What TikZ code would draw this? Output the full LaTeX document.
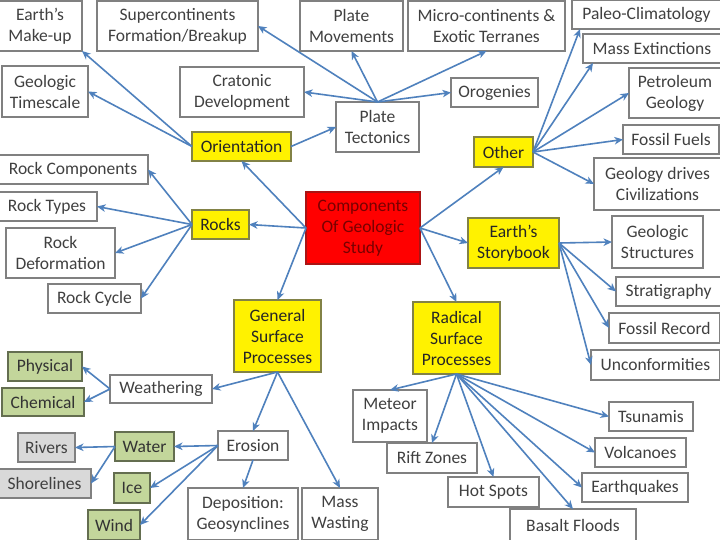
\documentclass[tikz,border=0pt]{standalone}
\usepackage{fontspec}
\setmainfont{Carlito}
\usetikzlibrary{arrows.meta}
\definecolor{arr}{RGB}{79,129,189}
\definecolor{txt}{RGB}{64,64,64}
\definecolor{bord}{RGB}{128,128,128}
\definecolor{ybord}{RGB}{130,130,70}
\definecolor{gfill}{RGB}{195,214,155}
\definecolor{gbord}{RGB}{100,110,80}
\definecolor{grfill}{RGB}{217,217,217}
\definecolor{redtxt}{RGB}{120,0,0}
\definecolor{redbord}{RGB}{170,20,20}
\newcommand\bx[7]{\node[#6, minimum width={(#4-#2)*1pt}, minimum height={(#5-#3)*1pt}] (#1) at ({(#2+#4)/2},{(#3+#5)/2}) {#7};}
\tikzset{
  base/.style={inner sep=0pt, outer sep=0pt, align=center, line width=1.3pt},
  wbox/.style={base, draw=bord, fill=white, text=txt},
  ybox/.style={base, draw=ybord, fill=yellow, text=black!85},
  rbox/.style={base, draw=redbord, fill=red, text=redtxt},
  gbox/.style={base, draw=gbord, fill=gfill, text=black!80},
  grbox/.style={base, draw=bord, fill=grfill, text=txt},
  conn/.style={draw=arr, line width=1.6pt, -{Stealth[length=8.5pt,width=7.5pt,inset=2.5pt]}}
}
\begin{document}
\begin{tikzpicture}[x=1pt,y=-1pt,font=\fontsize{17.5}{21}\selectfont]
\useasboundingbox (0,0) rectangle (720,539);
\fill[white] (0,0) rectangle (720,539);
\clip (0,0) rectangle (720,539);
% top row
\bx{makeup}{-2}{1}{82}{51}{wbox}{Earth’s\\Make-up}
\bx{super}{97}{1}{258}{51}{wbox}{Supercontinents\\Formation/Breakup}
\bx{platemov}{300}{1}{403}{51}{wbox}{Plate\\Movements}
\bx{micro}{408}{1}{565}{51}{wbox}{Micro-continents \&\\Exotic Terranes}
\bx{paleo}{572}{0}{721}{29}{wbox}{Paleo-Climatology}
\bx{massext}{583}{34}{721}{63}{wbox}{Mass Extinctions}
\bx{petro}{629}{68}{721}{118}{wbox}{Petroleum\\Geology}
\bx{timescale}{2}{66}{88}{117}{wbox}{Geologic\\Timescale}
\bx{cratonic}{180}{67}{304}{117}{wbox}{Cratonic\\Development}
\bx{orog}{451}{78}{538}{107}{wbox}{Orogenies}
\bx{plate}{336}{102}{419}{152}{wbox}{Plate\\Tectonics}
\bx{orient}{192}{132}{291}{161}{ybox}{Orientation}
\bx{other}{474}{137}{533}{167}{ybox}{Other}
\bx{fuels}{623}{125}{719}{154}{wbox}{Fossil Fuels}
\bx{civ}{594}{158}{721}{210}{wbox}{Geology drives\\Civilizations}
% middle
\bx{rockcomp}{-2}{155}{148}{184}{wbox}{Rock Components}
\bx{rocktypes}{-3}{192}{97}{221}{wbox}{Rock Types}
\bx{rockdef}{6}{228}{115}{278}{wbox}{Rock\\Deformation}
\bx{rockcycle}{48}{284}{141}{313}{wbox}{Rock Cycle}
\bx{rocks}{192}{210}{249}{239}{ybox}{Rocks}
\bx{red}{306}{192}{420}{264}{rbox}{Components\\Of Geologic\\Study}
\bx{story}{468}{218}{559}{268}{ybox}{Earth’s\\Storybook}
\bx{geostruct}{612}{216}{703}{268}{wbox}{Geologic\\Structures}
\bx{strat}{616}{277}{721}{306}{wbox}{Stratigraphy}
\bx{fossrec}{609}{313}{720}{343}{wbox}{Fossil Record}
\bx{unconf}{591}{350}{720}{380}{wbox}{Unconformities}
\bx{gsp}{234}{300}{321}{372}{ybox}{General\\Surface\\Processes}
\bx{radical}{413}{302}{500}{374}{ybox}{Radical\\Surface\\Processes}
% lower left
\bx{physical}{8}{352}{82}{381}{gbox}{Physical}
\bx{chemical}{2}{388}{84}{416}{gbox}{Chemical}
\bx{weath}{110}{375}{212}{403}{wbox}{Weathering}
\bx{rivers}{18}{433}{75}{462}{grbox}{Rivers}
\bx{water}{115}{432}{174}{461}{gbox}{Water}
\bx{shore}{-2}{469}{91}{498}{grbox}{Shorelines}
\bx{erosion}{218}{431}{288}{460}{wbox}{Erosion}
\bx{ice}{114}{473}{150}{503}{gbox}{Ice}
\bx{wind}{88}{510}{140}{540}{gbox}{Wind}
\bx{depo}{188}{488}{298}{540}{wbox}{Deposition:\\Geosynclines}
\bx{masswaste}{302}{488}{378}{540}{wbox}{Mass\\Wasting}
% lower right
\bx{meteor}{353}{390}{427}{442}{wbox}{Meteor\\Impacts}
\bx{rift}{387}{443}{477}{473}{wbox}{Rift Zones}
\bx{hot}{448}{477}{539}{507}{wbox}{Hot Spots}
\bx{basalt}{510}{509}{636}{541}{wbox}{Basalt Floods}
\bx{tsu}{609}{402}{693}{431}{wbox}{Tsunamis}
\bx{volc}{595}{438}{686}{467}{wbox}{Volcanoes}
\bx{quake}{582}{473}{688}{502}{wbox}{Earthquakes}
% connectors
\draw[conn] (red.west) -- (orient.south);
\draw[conn] (red.west) -- (rocks.east);
\draw[conn] (red.west) -- (gsp.north);
\draw[conn] (red.east) -- (other.south);
\draw[conn] (red.east) -- (story.west);
\draw[conn] (red.east) -- (radical.north);
\draw[conn] (orient.west) -- (makeup.south east);
\draw[conn] (orient.west) -- (timescale.east);
\draw[conn] (orient.east) -- (plate.west);
\draw[conn] (plate.north) -- (super.east);
\draw[conn] (plate.north) -- (cratonic.east);
\draw[conn] (plate.north) -- (platemov.south);
\draw[conn] (plate.north) -- (micro.south);
\draw[conn] (plate.north) -- (orog.west);
\draw[conn] (other.east) -- ([xshift=8pt]paleo.south west);
\draw[conn] (other.east) -- ([xshift=10pt]massext.south west);
\draw[conn] (other.east) -- (petro.west);
\draw[conn] (other.east) -- (fuels.west);
\draw[conn] (other.east) -- (civ.west);
\draw[conn] (story.east) -- (geostruct.west);
\draw[conn] (story.east) -- (strat.west);
\draw[conn] (story.east) -- (fossrec.west);
\draw[conn] (story.east) -- (unconf.west);
\draw[conn] (radical.south) -- (meteor.north);
\draw[conn] (radical.south) -- (rift.north);
\draw[conn] (radical.south) -- (hot.north);
\draw[conn] (radical.south) -- (basalt.north);
\draw[conn] (radical.south) -- (quake.west);
\draw[conn] (radical.south) -- (volc.west);
\draw[conn] (radical.south) -- (tsu.west);
\draw[conn] (rocks.west) -- (rockcomp.east);
\draw[conn] (rocks.west) -- (rocktypes.east);
\draw[conn] (rocks.west) -- (rockdef.east);
\draw[conn] (rocks.west) -- (rockcycle.east);
\draw[conn] (gsp.south) -- (weath.east);
\draw[conn] (gsp.south) -- (erosion.north);
\draw[conn] (gsp.south) -- (masswaste.north);
\draw[conn] (weath.west) -- (physical.east);
\draw[conn] (weath.west) -- (chemical.east);
\draw[conn] (erosion.west) -- (water.east);
\draw[conn] (erosion.west) -- (ice.east);
\draw[conn] (erosion.west) -- (wind.east);
\draw[conn] (erosion.south) -- (depo.north);
\draw[conn] (water.west) -- (rivers.east);
\draw[conn] (water.west) -- (shore.east);
\end{tikzpicture}
\end{document}
